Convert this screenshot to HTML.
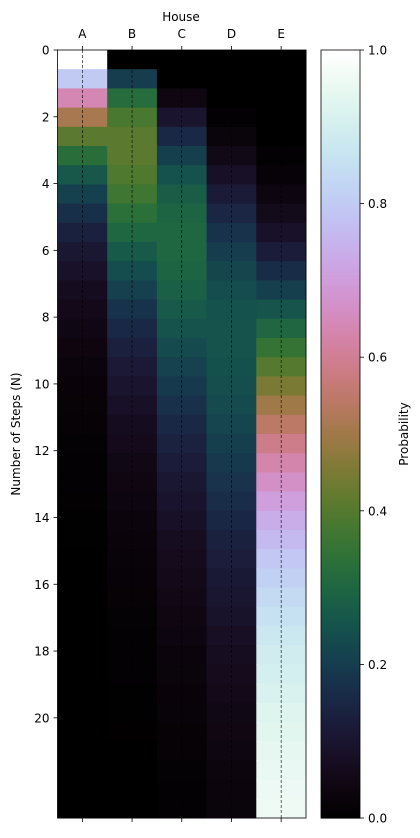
<!DOCTYPE html>
<html><head><meta charset="utf-8"><style>
html,body{margin:0;padding:0;background:#fff;}
svg{display:block;font-family:"DejaVu Sans","Liberation Sans",sans-serif;}
</style></head><body>
<svg id="chart" width="420" height="838" viewBox="0 0 420 838"></svg>
<script>
const houses = ["A","B","C","D","E"];
const probA = [1,.8,.64,.512,.4096,.3277,.2621,.2097,.1678,.1342,.1074,.0859,.0687,.055,.044,.0352,.0281,.0225,.018,.0144,.0115,.0092,.0074,.0059,.0047,.0038,.003,.0024,.0019,.0015,.0012,.001,.0008,.0006,.0005,.0004,.0003,.0003,.0002,.0002];
const probB = [0,.2,.32,.384,.4096,.4096,.3932,.367,.3355,.302,.2684,.2362,.2062,.1787,.154,.1319,.1126,.0957,.0811,.0685,.0576,.0484,.0405,.0338,.0283,.0236,.0197,.0164,.0136,.0113,.0093,.0077,.0064,.0053,.0044,.0036,.003,.0025,.002,.0017];
const probC = [0,0,.04,.096,.1536,.2048,.2458,.2753,.2936,.302,.302,.2953,.2835,.2681,.2502,.2308,.2111,.1914,.1723,.1541,.1368,.121,.1063,.093,.0814,.0708,.0616,.0533,.0459,.0396,.0337,.0289,.0248,.0212,.0182,.0153,.0131,.0113,.0093,.0081];
const probD = [0,0,0,.008,.0256,.0512,.0819,.1147,.1468,.1762,.2013,.2215,.2363,.2458,.2502,.25,.2463,.2393,.2297,.2183,.2052,.1916,.1772,.1628,.1492,.1357,.1232,.111,.0995,.0891,.0786,.0698,.062,.0548,.0485,.0421,.0371,.033,.0279,.025];
const probE = [0,0,0,0,.0016,.0067,.017,.0333,.0563,.0856,.1209,.1611,.2053,.2524,.3016,.3521,.4019,.4511,.4989,.5447,.5889,.6298,.6686,.7045,.7364,.7661,.7925,.8169,.8391,.8585,.8772,.8926,.906,.9181,.9284,.9386,.9465,.9529,.9606,.965];
const yTicks = [0,2,4,6,8,10,12,14,16,18,20];
const cbTicks = [0,0.2,0.4,0.6,0.8,1.0];

const NS="http://www.w3.org/2000/svg";
const svg=document.getElementById('chart');
function mk(t,a,p){const e=document.createElementNS(NS,t);for(const k in a)e.setAttribute(k,a[k]);(p||svg).appendChild(e);return e;}
function cubehelix(x){
  const a=x*(1-x)/2, phi=2*Math.PI*(0.5/3-1.5*x);
  const c=Math.cos(phi), s=Math.sin(phi);
  const f=v=>Math.round(255*Math.max(0,Math.min(1,v)));
  const r=x+a*(-0.14861*c+1.78277*s), g=x+a*(-0.29227*c-0.90649*s), b=x+a*(1.97294*c);
  return `rgb(${f(r)},${f(g)},${f(b)})`;
}
const X0=57.5,X1=306,Y0=50,Y1=818,YMAX=23;
const cols=[probA,probB,probC,probD,probE];
const nRows=probA.length;
const colW=(X1-X0)/houses.length, rowH=(Y1-Y0)/nRows;
const xCenter=i=>X0+(i+0.5)*colW;
const yScale=v=>Y0+v*(Y1-Y0)/YMAX;

const cells=mk('g',{});


cols.forEach((arr,ci)=>{arr.forEach((v,ri)=>{
  const r=mk('rect',{x:X0+ci*colW,y:Y0+ri*rowH,width:colW+0.5,height:rowH+0.5,fill:cubehelix(v)},cells);
  
  
});});
houses.forEach((h,i)=>{
  const l=mk('line',{x1:xCenter(i),x2:xCenter(i),y1:Y0,y2:Y1,stroke:'#000','stroke-width':0.6,'stroke-dasharray':'3,2'});
  
  
  const t=mk('line',{x1:xCenter(i),x2:xCenter(i),y1:Y0,y2:Y0-4,stroke:'#000','stroke-width':0.8});
  
  
  const b=mk('line',{x1:xCenter(i),x2:xCenter(i),y1:Y1,y2:Y1+4,stroke:'#000','stroke-width':0.8});
  
  
  const tx=mk('text',{x:xCenter(i),y:38,'font-size':12,'text-anchor':'middle',fill:'#000'});
  tx.textContent=h;
  
  
});
const frame=mk('rect',{x:X0,y:Y0,width:X1-X0,height:Y1-Y0,fill:'none',stroke:'#000','stroke-width':0.8});


yTicks.forEach(v=>{
  const t=mk('line',{x1:X0,x2:X0-4,y1:yScale(v),y2:yScale(v),stroke:'#000','stroke-width':0.8});
  
  
  const tx=mk('text',{x:X0-8,y:yScale(v)+4.5,'font-size':12,'text-anchor':'end',fill:'#000'});
  tx.textContent=v;
  
  
});
const CX0=321,CX1=360;
const cb=mk('g',{});


const N=256;
for(let k=0;k<N;k++){
  const v=k/(N-1), h=(Y1-Y0)/N;
  mk('rect',{x:CX0,y:Y1-(k+1)*h,width:CX1-CX0,height:h+0.6,fill:cubehelix(v)},cb);
}
mk('rect',{x:CX0,y:Y0,width:CX1-CX0,height:Y1-Y0,fill:'none',stroke:'#000','stroke-width':0.8},cb);
cbTicks.forEach(v=>{
  const y=Y1-v*(Y1-Y0);
  const t=mk('line',{x1:CX1,x2:CX1+4,y1:y,y2:y,stroke:'#000','stroke-width':0.8});
  
  
  const tx=mk('text',{x:CX1+8,y:y+4.5,'font-size':12,fill:'#000'});
  tx.textContent=v.toFixed(1);
  
  
});
const t1=mk('text',{x:181,y:21,'font-size':12,'text-anchor':'middle'});
t1.textContent='House';


const t2=mk('text',{x:0,y:0,'font-size':12,'text-anchor':'middle',transform:'translate(20,434) rotate(-90)'});
t2.textContent='Number of Steps (N)';


const t3=mk('text',{x:0,y:0,'font-size':12,'text-anchor':'middle',transform:'translate(408,434) rotate(-90)'});
t3.textContent='Probability';


</script>
</body></html>
